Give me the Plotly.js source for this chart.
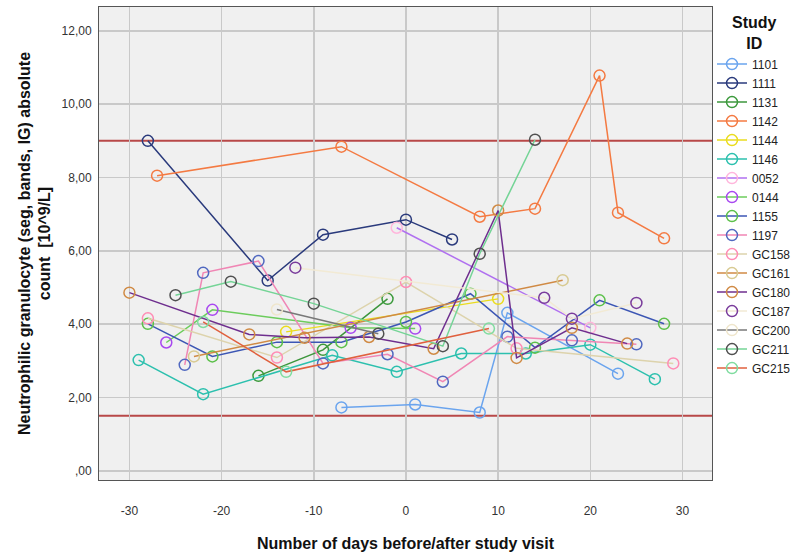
<!DOCTYPE html>
<html>
<head>
<meta charset="utf-8">
<script src="https://cdn.plot.ly/plotly-3.0.1.min.js"></script>
<style>html,body{margin:0;padding:0;background:#fff;}#chart{width:795px;height:559px;}</style>
</head>
<body>
<div id="chart"></div>
<script>
// ---- data (days relative to study visit, absolute count 10^9/L) ----
const studyIds = ["1101","1111","1131","1142","1144","1146","0052","0144","1155","1197","GC158","GC161","GC180","GC187","GC200","GC211","GC215"];

const days_1101 = [-7, 1, 8, 11, 23];
const vals_1101 = [1.73, 1.81, 1.59, 4.31, 2.65];
const days_1111 = [-28, -15, -9, 0, 5];
const vals_1111 = [9.00, 5.19, 6.44, 6.85, 6.31];
const days_1131 = [-16, -9, -2];
const vals_1131 = [2.59, 3.30, 4.69];
const days_1142 = [-27, -7, 8, 14, 21, 23, 28];
const vals_1142 = [8.05, 8.84, 6.93, 7.15, 10.78, 7.04, 6.34];
const days_1144 = [-13, 10];
const vals_1144 = [3.79, 4.69];
const days_1146 = [-29, -22, -8, -1, 6, 13, 20, 27];
const vals_1146 = [3.02, 2.09, 3.15, 2.70, 3.20, 3.20, 3.44, 2.50];
const days_0052 = [-1, 20];
const vals_0052 = [6.63, 3.90];
const days_0144 = [-26, -21, -6, 1];
const vals_0144 = [3.50, 4.39, 3.90, 3.88];
const days_1155 = [-28, -21, -14, -7, 0, 7, 14, 21, 28];
const vals_1155 = [4.01, 3.12, 3.51, 3.51, 4.06, 4.83, 3.36, 4.65, 4.01];
const days_1197 = [-24, -22, -16, -9, -2, 4, 11, 18, 25];
const vals_1197 = [2.89, 5.40, 5.72, 2.93, 3.18, 2.43, 3.66, 3.56, 3.45];
const days_GC158 = [-28, -14, 0, 12, 29];
const vals_GC158 = [4.16, 3.09, 5.15, 3.34, 2.93];
const days_GC161 = [-23, 17];
const vals_GC161 = [3.12, 5.20];
const days_GC180 = [-30, -17, -11, -4, 3, 10, 12, 18, 24];
const vals_GC180 = [4.86, 3.72, 3.63, 3.65, 3.33, 7.10, 3.08, 3.90, 3.47];
const days_GC187 = [-12, 15, 18, 25];
const vals_GC187 = [5.54, 4.72, 4.15, 4.58];
const days_GC200 = [-14, -3];
const vals_GC200 = [4.40, 3.74];
const days_GC211 = [-25, -19, -10, 4, 8, 14];
const vals_GC211 = [4.79, 5.16, 4.56, 3.40, 5.92, 9.03];
const days_GC215 = [-22, -13, 9];
const vals_GC215 = [4.06, 2.70, 3.88];

const refLines = [9, 1.5];

const xTickVals = [-30, -20, -10, 0, 10, 20, 30];
const xTickText = ["-30", "-20", "-10", "0", "10", "20", "30"];
const yTickVals = [0, 2, 4, 6, 8, 10, 12];
const yTickText = [",00", "2,00", "4,00", "6,00", "8,00", "10,00", "12,00"];

// ---- styles ----
const seriesData = {
  "1101": [days_1101, vals_1101], "1111": [days_1111, vals_1111], "1131": [days_1131, vals_1131],
  "1142": [days_1142, vals_1142], "1144": [days_1144, vals_1144], "1146": [days_1146, vals_1146],
  "0052": [days_0052, vals_0052], "0144": [days_0144, vals_0144], "1155": [days_1155, vals_1155],
  "1197": [days_1197, vals_1197], "GC158": [days_GC158, vals_GC158], "GC161": [days_GC161, vals_GC161],
  "GC180": [days_GC180, vals_GC180], "GC187": [days_GC187, vals_GC187], "GC200": [days_GC200, vals_GC200],
  "GC211": [days_GC211, vals_GC211], "GC215": [days_GC215, vals_GC215]
};
const markerColors = {
  "1101": "#6aa4ee", "1111": "#2a3a7c", "1131": "#3c9a3c", "1142": "#f47a42", "1144": "#eadc1e",
  "1146": "#2cc0ae", "0052": "#ffb6dc", "0144": "#a848f0", "1155": "#5cc04a", "1197": "#5068c0",
  "GC158": "#ff8cb4", "GC161": "#d8ca92", "GC180": "#d08a44", "GC187": "#7a3c9c", "GC200": "#efe6cc",
  "GC211": "#505050", "GC215": "#80dca0"
};
const lineColors = {
  "1101": "#6aa4ee", "1111": "#2a3a7c", "1131": "#3c963c", "1142": "#f47a42", "1144": "#eadc1e",
  "1146": "#2cc0ae", "0052": "#b070f0", "0144": "#6ccc5c", "1155": "#3c56b4", "1197": "#f086b4",
  "GC158": "#ddd3ac", "GC161": "#d08a44", "GC180": "#6e2e8e", "GC187": "#f2ead4", "GC200": "#787878",
  "GC211": "#74d496", "GC215": "#e0603e"
};

const traces = studyIds.map(id => {
  const [x, y] = seriesData[id];
  let mc = markerColors[id];
  if (id === "GC200") mc = [markerColors["GC200"], "#505050"];
  return {
    type: "scatter", mode: "lines+markers", name: id, x: x, y: y,
    line: {color: lineColors[id], width: 1.5},
    marker: {symbol: "circle-open", size: 11, color: mc, line: {color: mc, width: 1.5}},
    hoverinfo: "skip"
  };
});

const shapes = refLines.map(v => ({
  type: "line", xref: "paper", x0: 0, x1: 1, yref: "y", y0: v, y1: v,
  line: {color: "#b84848", width: 2}, layer: "between"
}));

const font = "Liberation Sans, Arial, sans-serif";

const layout = {
  width: 795, height: 559,
  margin: {l: 99, r: 83, t: 7, b: 79, pad: 0, autoexpand: false},
  paper_bgcolor: "#ffffff", plot_bgcolor: "#f0f0f0",
  font: {family: font, size: 12, color: "#222"},
  showlegend: true,
  xaxis: {
    range: [-33.3, 33.2], tickvals: xTickVals, ticktext: xTickText,
    showgrid: true, gridcolor: "#c9c9c9", gridwidth: 1.5, zeroline: false,
    showline: true, mirror: true, linecolor: "#555", linewidth: 1,
    ticks: "", ticklabelstandoff: 20,
    tickfont: {family: font, size: 12, color: "#333"},
    title: {text: "Number of days before/after study visit", font: {family: font, size: 16, color: "#111", weight: "bold"}, standoff: 20}
  },
  yaxis: {
    range: [-0.25, 12.65], tickvals: yTickVals, ticktext: yTickText,
    showgrid: true, gridcolor: "#c9c9c9", gridwidth: 1.5, zeroline: false,
    showline: true, mirror: true, linecolor: "#555", linewidth: 1,
    ticks: "", ticklabelstandoff: 4,
    tickfont: {family: font, size: 12, color: "#333"},
    title: {text: "Neutrophilic granulocyte (seg, bands, IG) absolute<br>count  [10^9/L]", font: {family: font, size: 16, color: "#111", weight: "bold"}, standoff: 6}
  },
  legend: {
    x: 1.0, xanchor: "left", y: 0.91, yanchor: "top",
    bgcolor: "rgba(0,0,0,0)", borderwidth: 0,
    font: {family: font, size: 12, color: "#222"},
    itemwidth: 30, tracegroupgap: 0
  },
  annotations: [{
    xref: "paper", yref: "paper", x: 1.07, y: 0.945, xanchor: "center", yanchor: "middle",
    text: "Study<br>ID", align: "center", showarrow: false,
    font: {family: font, size: 16, color: "#111", weight: "bold"}
  }],
  shapes: shapes
};

Plotly.newPlot("chart", traces, layout, {displayModeBar: false, staticPlot: true});
</script>
</body>
</html>
